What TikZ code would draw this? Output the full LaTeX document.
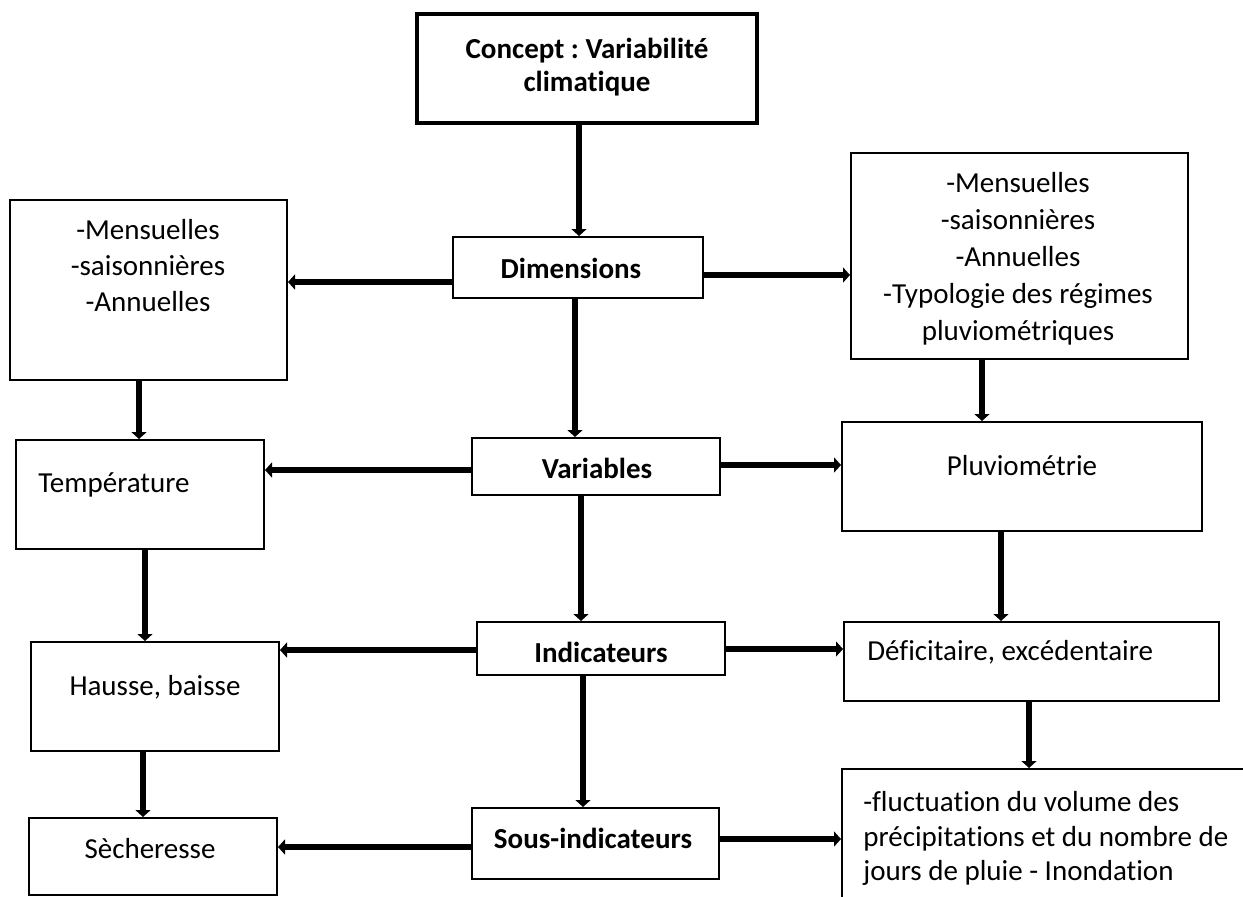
\documentclass[tikz,border=0pt]{standalone}
\usepackage{fontspec}
\setmainfont{Carlito}[Ligatures={TeX,NoCommon}]
\usetikzlibrary{arrows.meta}
\frenchspacing

\begin{document}
\begin{tikzpicture}
	[x=0.5pt,y=-0.5pt,
	box/.style={draw,line width=1pt,inner sep=0pt},
	conceptbox/.style={box,line width=2pt},
	txt/.style={inner sep=0pt,align=center,font=\fontsize{14.5}{18}\selectfont},
	btxt/.style={inner sep=0pt,align=center,font=\fontsize{14.5}{17}\selectfont\bfseries},
	arr/.style={line width=3pt,-{Triangle[length=3.5pt,width=7.5pt]}}]
	\useasboundingbox (0,0) rectangle (1243,896);
	\clip (0,0) rectangle (1243,896);
	
	% middle column
	\node[conceptbox,minimum width=170pt,minimum height=54.5pt] (concept) at (587,68.5) {};
	\node[box,minimum width=125pt,minimum height=30.5pt] (dim) at (578,267.5) {};
	\node[box,minimum width=124pt,minimum height=28.5pt] (var) at (596,466.5) {};
	\node[box,minimum width=124pt,minimum height=26.5pt] (ind) at (601,648.5) {};
	\node[box,minimum width=123.5pt,minimum height=35.5pt] (sous) at (595.5,843.5) {};
	
	% left column
	\node[box,minimum width=138.5pt,minimum height=90pt] (mens) at (148.5,290) {};
	\node[box,minimum width=124pt,minimum height=54.5pt] (temp) at (140,494.5) {};
	\node[box,minimum width=124pt,minimum height=54.5pt] (hausse) at (155,696.5) {};
	\node[box,minimum width=124pt,minimum height=38.5pt] (sech) at (153,856.5) {};
	
	% right column
	\node[box,minimum width=168.5pt,minimum height=103pt] (typo) at (1019.5,256) {};
	\node[box,minimum width=180pt,minimum height=54.5pt] (pluvio) at (1022,476.5) {};
	\node[box,minimum width=187.5pt,minimum height=39.5pt] (defic) at (1031.5,661.5) {};
	\node[box,minimum width=204pt,minimum height=70.5pt] (fluct) at (1046,839.5) {};
	
	% texts
	\node[btxt,font=\fontsize{14.5}{16.5}\selectfont\bfseries] (t-concept) at (587,67) {Concept : Variabilité\\climatique};
	\node[btxt] (t-dim) at (571,268) {Dimensions};
	\node[btxt] (t-var) at (597,468) {Variables};
	\node[btxt] (t-ind) at (601,652) {Indicateurs};
	\node[btxt] (t-sous) at (593,838) {Sous-indicateurs};
	\node[txt] (t-mens) at (148,266) {-Mensuelles\\-saisonnières\\-Annuelles};
	\node[txt,anchor=west] (t-temp) at (38,485) {Température};
	\node[txt] (t-hausse) at (155,687) {Hausse, baisse};
	\node[txt] (t-sech) at (150,849) {Sècheresse};
	\node[txt,font=\fontsize{14.5}{18.5}\selectfont] (t-typo) at (1018,259) {-Mensuelles\\-saisonnières\\-Annuelles\\-Typologie des régimes\\pluviométriques};
	\node[txt] (t-pluvio) at (1022,466) {Pluviométrie};
	\node[txt,anchor=west] (t-defic) at (867,652) {Déficitaire, excédentaire};
	\node[txt,anchor=west,align=left,font=\fontsize{14.5}{17.25}\selectfont] (t-fluct) at (863,838.5) {-fluctuation du volume des\\précipitations et du nombre de\\jours de pluie - Inondation};
	
	% arrows
	\foreach \a/\b/\x in {concept/dim/579,dim/var/575,var/ind/581,ind/sous/583,
		mens/temp/139,temp/hausse/145,hausse/sech/143,
		typo/pluvio/982,pluvio/defic/1001,defic/fluct/1029}
		\draw[arr] (\a.south -| \x,0) -- (\b.north -| \x,0);
	\foreach \a/\b/\y in {dim/mens/282,var/temp/470,ind/hausse/650,sous/sech/847}
		\draw[arr] (\a.west |- 0,\y) -- (\b.east |- 0,\y);
	\foreach \a/\b/\y in {dim/typo/275,var/pluvio/465,ind/defic/649,sous/fluct/839}
		\draw[arr] (\a.east |- 0,\y) -- (\b.west |- 0,\y);
\end{tikzpicture}
\end{document}
